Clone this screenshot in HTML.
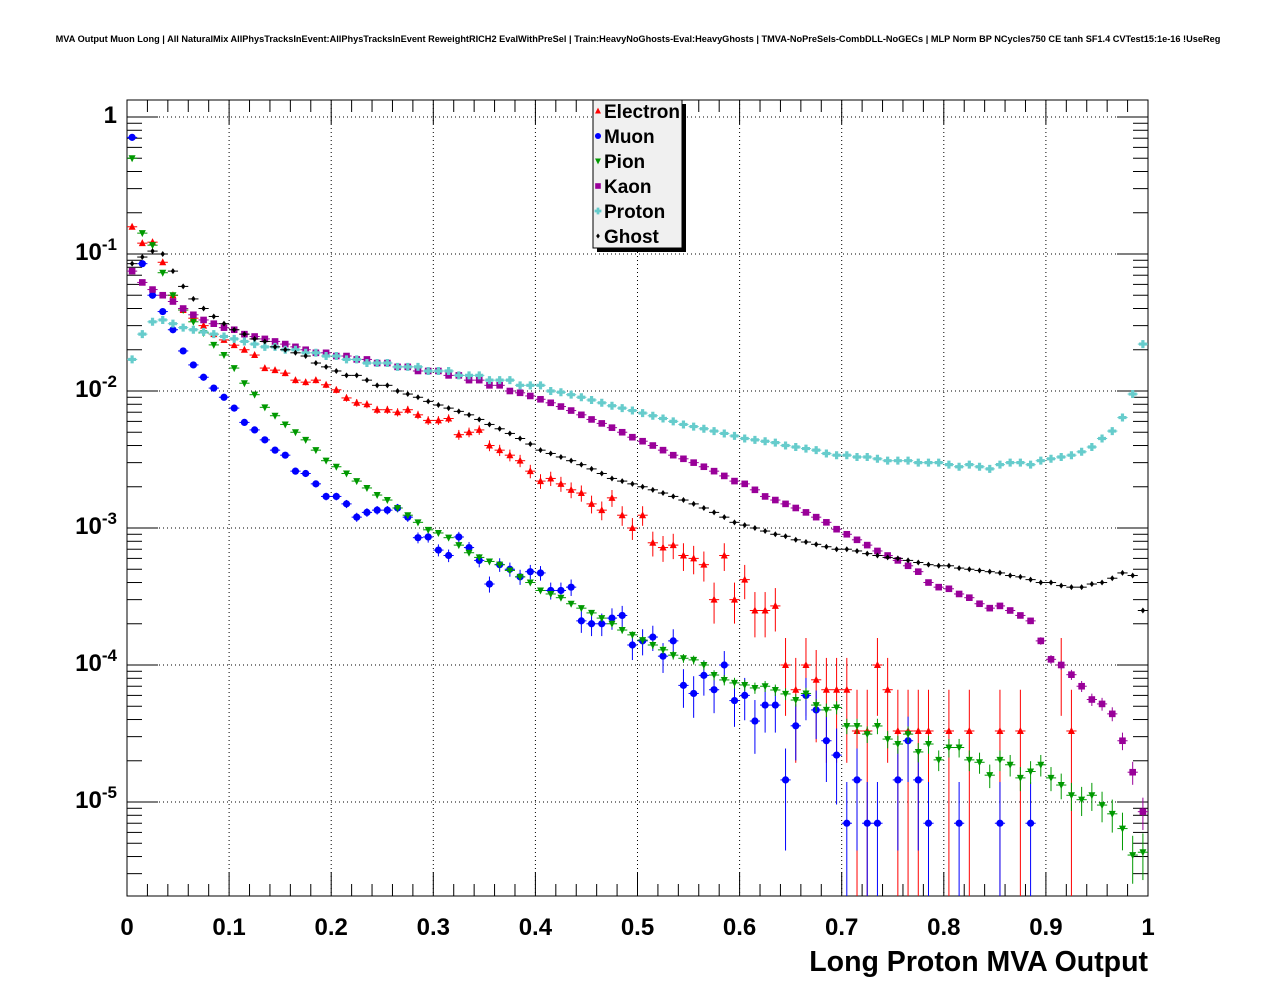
<!DOCTYPE html>
<html><head><meta charset="utf-8"><style>
body{margin:0;background:#fff;}
svg{display:block;font-family:"Liberation Sans",sans-serif;}
</style></head><body>
<svg id="chart" width="1276" height="996" viewBox="0 0 1276 996" xmlns="http://www.w3.org/2000/svg">
<rect width="1276" height="996" fill="#fff"/>
<text x="638" y="42" font-size="9.2" font-weight="bold" text-anchor="middle">MVA Output Muon Long | All NaturalMix AllPhysTracksInEvent:AllPhysTracksInEvent ReweightRICH2 EvalWithPreSel | Train:HeavyNoGhosts-Eval:HeavyGhosts | TMVA-NoPreSels-CombDLL-NoGECs | MLP Norm BP NCycles750 CE tanh SF1.4 CVTest15:1e-16 !UseReg</text>
<g id="grid"></g>
<g id="axes"></g>
<g id="series"></g>
<g id="legend"></g>
<text x="1148" y="971" font-size="28.5" font-weight="bold" text-anchor="end">Long Proton MVA Output</text>
</svg>
<script>
const xTicks=[0,0.1,0.2,0.3,0.4,0.5,0.6,0.7,0.8,0.9,1];
const xTickLabels=["0","0.1","0.2","0.3","0.4","0.5","0.6","0.7","0.8","0.9","1"];
const yDecades=[0,-1,-2,-3,-4,-5];
const seriesNames=["Electron","Muon","Pion","Kaon","Proton","Ghost"];
const electron=[0.158,0.12,0.122,0.087,0.050,0.039,0.034,0.030,0.026,0.0236,
0.0216,0.020,0.0183,0.0147,0.0142,0.0135,0.012,0.0116,0.012,0.0111,
0.0102,0.0089,0.0082,0.0080,0.0073,0.0073,0.0070,0.0073,0.0067,0.0061,
0.0061,0.0063,0.0048,0.0050,0.0052,0.0040,0.0037,0.0034,0.0031,0.0026,
0.0022,0.0023,0.0021,0.0019,0.0018,0.0015,0.00135,0.00166,0.00124,0.001,
0.00124,0.00078,0.00072,0.00075,0.00063,0.0006,0.00054,0.0003,0.00063,0.0003,
0.00042,0.00025,0.00025,0.00027,0.0001,0.000066,0.0001,0.000078,0.000066,0.000066,
0.000066,0.000033,0.000033,0.0001,0.000066,0.000033,0.000033,0.000033,0.000033,0,
0.000033,0,0.000033,0,0,0.000033,0,0.000033,0,0,
0,0.0001,0.000033,0,0,0,0,0,0,0];
const muon=[0.71,0.085,0.05,0.038,0.028,0.0196,0.0155,0.0126,0.0105,0.0090,
0.0075,0.0059,0.0052,0.0044,0.0037,0.0034,0.0026,0.0025,0.0021,0.0017,
0.0017,0.0015,0.0012,0.0013,0.00135,0.00135,0.0014,0.0012,0.00085,0.00086,
0.00069,0.00063,0.00086,0.00072,0.00058,0.00039,0.00054,0.0005,0.00044,0.00048,
0.00047,0.00035,0.00035,0.00037,0.00021,0.0002,0.0002,0.00022,0.00023,0.00014,
0.00015,0.00016,0.000116,0.00015,0.000071,0.000062,0.000084,0.000066,0.0001,0.000055,
0.00006,0.000039,0.000051,0.000051,0.0000145,0.000036,0.00006,0.000047,0.000028,0.000022,
0.000007,0.0000145,0.000007,0.000007,0,0.0000145,0.000028,0.0000145,0.000007,0,
0,0.000007,0,0,0,0.000007,0,0,0.000007,0,
0,0,0,0,0,0,0,0,0,0];
const pion=[0.50,0.142,0.116,0.073,0.050,0.039,0.032,0.0265,0.0217,0.0183,
0.0147,0.0114,0.0094,0.0076,0.0066,0.0057,0.0050,0.0044,0.0037,0.0031,
0.0028,0.0025,0.0022,0.00196,0.00174,0.0016,0.0014,0.00124,0.0011,0.00097,
0.00092,0.00085,0.00075,0.00066,0.00061,0.00057,0.00054,0.00049,0.00044,0.00040,
0.00035,0.00033,0.00031,0.00028,0.00026,0.00024,0.00022,0.00020,0.00018,0.000166,
0.000152,0.00014,0.000129,0.000118,0.000112,0.000109,0.0001,0.0000845,0.0000778,0.000074,
0.0000715,0.000068,0.00007,0.0000657,0.0000615,0.0000555,0.000062,0.000051,0.000047,0.000049,
0.0000359,0.0000359,0.0000313,0.0000359,0.0000288,0.0000265,0.0000313,0.0000232,0.0000265,0.0000203,
0.000025,0.000025,0.0000203,0.0000195,0.0000157,0.0000203,0.0000187,0.000015,0.0000167,0.0000187,
0.000015,0.0000133,0.0000112,0.0000104,0.0000112,0.0000095,0.0000082,0.0000064,0.0000041,0.0000043];
const kaon=[0.075,0.062,0.055,0.050,0.045,0.040,0.036,0.033,0.031,0.029,
0.028,0.026,0.025,0.024,0.023,0.022,0.021,0.020,0.019,0.019,
0.018,0.018,0.017,0.017,0.016,0.016,0.015,0.015,0.014,0.014,
0.014,0.013,0.013,0.012,0.012,0.011,0.011,0.010,0.0097,0.0092,
0.0087,0.0082,0.0077,0.0072,0.0067,0.0062,0.0058,0.0054,0.0050,0.0046,
0.0043,0.0040,0.0037,0.0034,0.0032,0.0030,0.0028,0.0026,0.0024,0.0022,
0.0021,0.0019,0.0017,0.0016,0.0015,0.0014,0.0013,0.0012,0.0011,0.00098,
0.00090,0.00082,0.00075,0.00068,0.00063,0.00058,0.00053,0.00048,0.00040,0.00037,
0.00036,0.00033,0.00031,0.00028,0.00026,0.00027,0.00025,0.00023,0.00021,0.00015,
0.00011,0.0001,0.000085,0.00007,0.000056,0.000052,0.000044,0.000028,0.0000165,0.0000085];
const proton=[0.017,0.026,0.032,0.033,0.031,0.029,0.028,0.027,0.026,0.025,
0.024,0.023,0.022,0.021,0.021,0.020,0.020,0.019,0.019,0.018,
0.018,0.017,0.017,0.016,0.016,0.016,0.015,0.015,0.015,0.014,
0.014,0.014,0.013,0.013,0.013,0.012,0.012,0.012,0.011,0.011,
0.011,0.010,0.0098,0.0094,0.0090,0.0086,0.0082,0.0078,0.0075,0.0072,
0.0069,0.0066,0.0063,0.0060,0.0057,0.0055,0.0053,0.0051,0.0049,0.0047,
0.0045,0.0044,0.0043,0.0042,0.0040,0.0039,0.0038,0.0037,0.0035,0.0034,
0.0034,0.0033,0.0033,0.0032,0.0031,0.0031,0.0031,0.0030,0.0030,0.0030,
0.0029,0.0028,0.0029,0.0028,0.0027,0.0029,0.0030,0.0030,0.0029,0.0031,
0.0032,0.0033,0.0034,0.0036,0.0039,0.0045,0.0051,0.0064,0.0095,0.022];
const ghost=[0.085,0.095,0.105,0.10,0.075,0.058,0.047,0.040,0.035,0.031,
0.028,0.026,0.024,0.023,0.021,0.020,0.019,0.018,0.016,0.015,
0.014,0.013,0.013,0.012,0.011,0.011,0.010,0.0095,0.0090,0.0084,
0.0079,0.0075,0.0071,0.0067,0.0062,0.0057,0.0053,0.0049,0.0045,0.0041,
0.0037,0.0035,0.0033,0.0031,0.0029,0.0027,0.0025,0.0023,0.0022,0.0021,
0.0020,0.0019,0.0018,0.0017,0.0016,0.0015,0.0014,0.0013,0.0012,0.0011,
0.00105,0.0010,0.00095,0.0009,0.00087,0.00082,0.00079,0.00076,0.00073,0.0007,
0.0007,0.00068,0.00065,0.00063,0.00061,0.0006,0.00058,0.00056,0.00054,0.00053,
0.00053,0.00051,0.0005,0.00049,0.00048,0.00047,0.00045,0.00044,0.00042,0.0004,
0.0004,0.00038,0.00037,0.00037,0.00039,0.0004,0.00043,0.00047,0.00045,0.00025];

const NS="http://www.w3.org/2000/svg";
const L=127,R=1148,T=100,B=896;
const yMax=0.124,yMin=-5.686;
function xs(v){return L+(v-0)/(1-0)*(R-L);}
function ys(v){const lg=Math.log10(v);return T+(yMax-lg)/(yMax-yMin)*(B-T);}
function mk(tag,attrs,parent){const e=document.createElementNS(NS,tag);for(const k in attrs)e.setAttribute(k,attrs[k]);parent.appendChild(e);return e;}
const grid=document.getElementById('grid'),axes=document.getElementById('axes'),ser=document.getElementById('series'),leg=document.getElementById('legend');

xTicks.forEach((t,i)=>{if(i===0||i===xTicks.length-1)return;const x=xs(t);
const g=mk('line',{x1:x,x2:x,y1:T,y2:B,stroke:'#000','stroke-width':1,'stroke-dasharray':'1,3'},grid);

});
yDecades.forEach(d=>{const y=ys(Math.pow(10,d));
const g=mk('line',{x1:L,x2:R,y1:y,y2:y,stroke:'#000','stroke-width':1,'stroke-dasharray':'1,3'},grid);

});

const fr=mk('rect',{x:L,y:T,width:R-L,height:B-T,fill:'none',stroke:'#000','stroke-width':1},axes);


for(let i=0;i<=50;i++){const v=i*0.02;const x=xs(v);const len=(i%5===0)?24:12;
mk('line',{x1:x,x2:x,y1:B,y2:B-len,stroke:'#000'},axes);
mk('line',{x1:x,x2:x,y1:T,y2:T+len,stroke:'#000'},axes);}
xTicks.forEach((t,i)=>{const tx=mk('text',{x:xs(t),y:935,'font-size':24,'font-weight':'bold','text-anchor':'middle'},axes);
tx.textContent=xTickLabels[i];

});
for(let d=-6;d<=0;d++){for(let m=1;m<=9;m++){const v=m*Math.pow(10,d);const lg=Math.log10(v);if(lg<yMin||lg>yMax)continue;const y=ys(v);const len=m===1?31:15;
mk('line',{x1:L,x2:L+len,y1:y,y2:y,stroke:'#000'},axes);
mk('line',{x1:R,x2:R-len,y1:y,y2:y,stroke:'#000'},axes);}}
yDecades.forEach(d=>{const y=ys(Math.pow(10,d));
const tx=mk('text',{x:117,y:y+6,'font-size':24,'font-weight':'bold','text-anchor':'end'},axes);


if(d===0){tx.textContent='1';}else{tx.textContent='10';const s=document.createElementNS(NS,'tspan');s.setAttribute('dy','-10');s.setAttribute('font-size','17');s.textContent='-'+(-d);tx.appendChild(s);}});

function marker(kind,x,y,color,parent,s){s=s||1;let e;
if(kind==='tri')e=mk('polygon',{points:`${x},${y-4*s} ${x-3.5*s},${y+3*s} ${x+3.5*s},${y+3*s}`,fill:color},parent);
else if(kind==='circ')e=mk('circle',{cx:x,cy:y,r:3.6*s,fill:color},parent);
else if(kind==='tridown')e=mk('polygon',{points:`${x},${y+4*s} ${x-3.5*s},${y-3*s} ${x+3.5*s},${y-3*s}`,fill:color},parent);
else if(kind==='sq')e=mk('rect',{x:x-3.3*s,y:y-3.3*s,width:6.6*s,height:6.6*s,fill:color},parent);
else if(kind==='cross')e=mk('path',{d:`M${x-1.6*s},${y-4*s}h${3.2*s}v${2.4*s}h${2.4*s}v${3.2*s}h${-2.4*s}v${2.4*s}h${-3.2*s}v${-2.4*s}h${-2.4*s}v${-3.2*s}h${2.4*s}z`,fill:color},parent);
else e=mk('polygon',{points:`${x},${y-3*s} ${x+2.2*s},${y} ${x},${y+3*s} ${x-2.2*s},${y}`,fill:color},parent);
return e;}

const defs=[
 {name:'electron',data:electron,color:'#ff0000',kind:'tri',unit:3.3e-5},
 {name:'muon',data:muon,color:'#0000ff',kind:'circ',unit:7e-6},
 {name:'pion',data:pion,color:'#009900',kind:'tridown',unit:6e-7},
 {name:'kaon',data:kaon,color:'#990099',kind:'sq',unit:6e-7},
 {name:'proton',data:proton,color:'#66cccc',kind:'cross',unit:2e-7},
 {name:'ghost',data:ghost,color:'#000000',kind:'diam',unit:1e-7}];
const nb=100,bw=1/nb;
defs.forEach(s=>{const g=mk('g',{},ser);


s.data.forEach((v,i)=>{if(!(v>0))return;const xc=xs((i+0.5)*bw);const y=ys(v);
const err=v*Math.sqrt(s.unit/v);const lo=v-err>0?ys(v-err):B;const hi=Math.max(T,ys(v+err));
mk('line',{x1:xc,x2:xc,y1:hi,y2:Math.min(B,lo),stroke:s.color,'stroke-width':1},g);
mk('line',{x1:xs(i*bw),x2:xs((i+1)*bw),y1:y,y2:y,stroke:s.color,'stroke-width':1},g);
const m=marker(s.kind,xc,y,s.color,g);

});});

mk('rect',{x:597,y:104,width:89,height:148,fill:'#000'},leg);
const lb=mk('rect',{x:593,y:100,width:89,height:148,fill:'#f0f0f0',stroke:'#000','stroke-width':1},leg);


defs.forEach((s,i)=>{const y=111+i*25;const g=mk('g',{},leg);


marker(s.kind,598,y,s.color,g,0.85);
const t=mk('text',{x:604,y:y+7,'font-size':19,'font-weight':'bold'},g);t.textContent=seriesNames[i];});
</script>
</body></html>
